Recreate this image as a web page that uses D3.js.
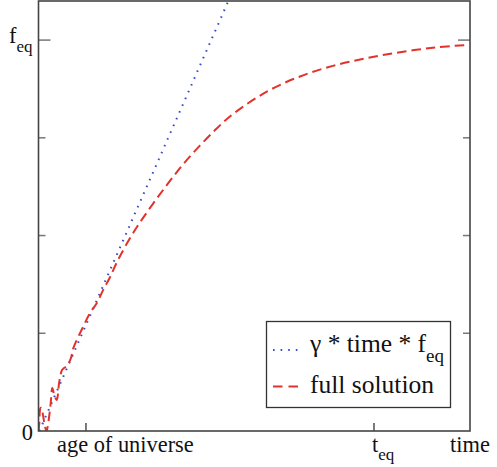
<!DOCTYPE html>
<html>
<head>
<meta charset="utf-8">
<script src="https://cdn.jsdelivr.net/npm/d3@7"></script>
</head>
<body style="margin:0">
<svg id="canvas" width="497" height="467"></svg>
<script>
// time in units of the plotted range, values in units of f_eq
const fullT = [0, 0.0019, 0.0042, 0.0065, 0.0111, 0.0139, 0.0185, 0.0236, 0.0283, 0.032,
  0.0366, 0.0422, 0.0482, 0.0545, 0.0591, 0.066, 0.0753, 0.0807, 0.1031, 0.1194, 0.1349,
  0.150, 0.166, 0.184, 0.219, 0.258, 0.298, 0.335, 0.374, 0.413, 0.451, 0.529, 0.606,
  0.682, 0.761, 0.838, 0.919, 0.988]
const fullF = [0, 0.0205, 0.0575, 0.0596, 0.0366, 0.0179, 0, 0.0281, 0.0716, 0.110,
  0.092, 0.0793, 0.126, 0.156, 0.161, 0.166, 0.187, 0.212, 0.266, 0.302, 0.327,
  0.361, 0.394, 0.437, 0.506, 0.570, 0.630, 0.682, 0.730, 0.774, 0.811, 0.868, 0.907,
  0.934, 0.954, 0.969, 0.981, 0.987]
const linT = [0.002, 0.44]
const linF = [0, 1.1]

const xTicks = [0.110, 0.7775]
const xLabels = ["age of universe", "t", "time"]
const yMinor = [0.25, 0.5, 0.75]
const legendNames = ["γ * time * f", "full solution"]

const serifFont = "Liberation Serif"
const svg = d3.select("#canvas")
const x = d3.scaleLinear().domain([0, 1]).range([38.5, 470])
const y = d3.scaleLinear().domain([0, 1.1]).range([431, 1])

const axisCol = "#444"
const tickCol = "#777"
const ink = "#111"

const label = (px, py, size) => svg.append("text").attr("x", px).attr("y", py)
  .attr("font-family", serifFont).style("font-family", serifFont)
  .attr("font-size", size).attr("fill", ink)

svg.append("clipPath").attr("id", "clip")
  .append("rect").attr("x", x(0)).attr("y", y(1.1)).attr("width", x(1) - x(0)).attr("height", y(0) - y(1.1))

// ticks, left and right, drawn inward
const yTicks = [{v: 1, len: 12}].concat(yMinor.map(v => ({v: v, len: 7})))
yTicks.forEach(t => {
  svg.append("line").attr("x1", x(0)).attr("x2", x(0) + t.len)
    .attr("y1", y(t.v)).attr("y2", y(t.v)).attr("stroke", tickCol).attr("stroke-width", 1.5)
  svg.append("line").attr("x1", x(1)).attr("x2", x(1) - t.len)
    .attr("y1", y(t.v)).attr("y2", y(t.v)).attr("stroke", tickCol).attr("stroke-width", 1.5)
})
xTicks.forEach(v => {
  svg.append("line").attr("x1", x(v)).attr("x2", x(v))
    .attr("y1", y(0)).attr("y2", y(0) - 8).attr("stroke", "#333").attr("stroke-width", 1.3)
})

// curves
const line = d3.line().x(d => x(d[0])).y(d => y(d[1])).curve(d3.curveCatmullRom.alpha(0.5))
svg.append("path")
  .attr("d", line(linT.map((t, i) => [t, linF[i]])))
  .attr("clip-path", "url(#clip)")
  .attr("fill", "none").attr("stroke", "#3a4cc4").attr("stroke-width", 2)
  .attr("stroke-dasharray", "1.6,5.8")
svg.append("path")
  .attr("d", line(fullT.map((t, i) => [t, fullF[i]])))
  .attr("clip-path", "url(#clip)")
  .attr("fill", "none").attr("stroke", "#e3312b").attr("stroke-width", 2)
  .attr("stroke-dasharray", "9.5,5")

// frame
svg.append("rect").attr("x", x(0)).attr("y", y(1.1)).attr("width", x(1) - x(0)).attr("height", y(0) - y(1.1))
  .attr("fill", "none").attr("stroke", axisCol).attr("stroke-width", 1.6)

// y labels
label(33, 440, 22.4).attr("text-anchor", "end").text("0")
const fy = label(9, 43, 22.4)
fy.append("tspan").text("f")
fy.append("tspan").attr("dy", 9).attr("font-size", 17).text("eq")

// x labels
label(57, 452, 22.4).text(xLabels[0])
const tq = label(372, 452, 22.4)
tq.append("tspan").text(xLabels[1])
tq.append("tspan").attr("dy", 8).attr("font-size", 17).text("eq")
label(470, 452, 22.4).attr("text-anchor", "middle").text(xLabels[2])

// legend
svg.append("rect").attr("x", 266.5).attr("y", 321.5).attr("width", 184).attr("height", 86)
  .attr("fill", "#fff").attr("stroke", "#333").attr("stroke-width", 1.3)
svg.append("line").attr("x1", 273).attr("x2", 299).attr("y1", 350).attr("y2", 350)
  .attr("stroke", "#3a4cc4").attr("stroke-width", 2).attr("stroke-dasharray", "1.6,6")
svg.append("line").attr("x1", 273).attr("x2", 299).attr("y1", 386.5).attr("y2", 386.5)
  .attr("stroke", "#e3312b").attr("stroke-width", 2).attr("stroke-dasharray", "9.5,6")
const l1 = label(310, 352, 25.5)
l1.append("tspan").text(legendNames[0])
l1.append("tspan").attr("dy", 10).attr("font-size", 19).text("eq")
label(310, 393, 25.5).text(legendNames[1])
</script>
</body>
</html>
